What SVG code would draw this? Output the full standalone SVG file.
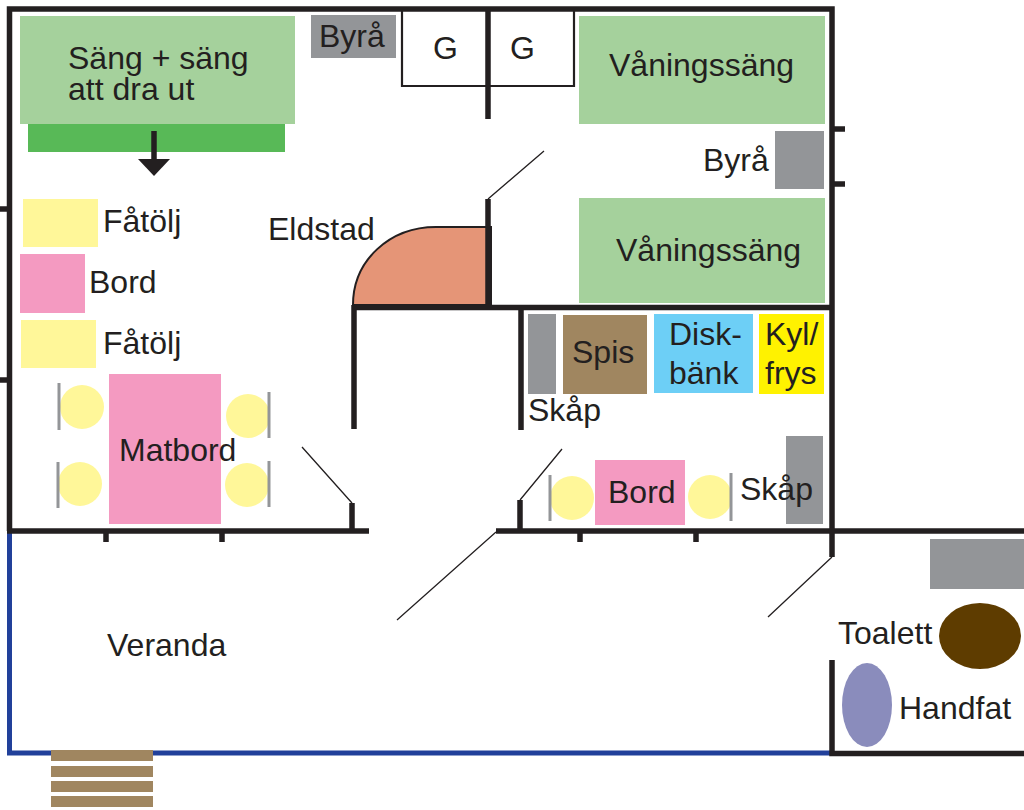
<svg xmlns="http://www.w3.org/2000/svg" width="1024" height="810" viewBox="0 0 1024 810">
<style>
text{font-family:"Liberation Sans",Arial,sans-serif;font-size:32px;fill:#231f20}
.w{stroke:#231f20;stroke-width:5.5;fill:none}
.t{stroke:#231f20;stroke-width:1.3;fill:none}
.s{stroke:#939598;stroke-width:3;fill:none}
.g{fill:#a5d19c}.y{fill:#fff799}.p{fill:#f49ac1}.d{fill:#939598}.b{fill:#a08660}
</style>
<rect width="1024" height="810" fill="#fff"/>
<g id="furniture">
<rect class="g" x="20" y="16" width="275" height="108"/>
<rect x="28" y="124" width="257" height="28" fill="#58b957"/>
<rect class="d" x="311" y="15" width="85" height="43"/>
<rect class="g" x="579" y="16" width="246" height="108"/>
<rect class="g" x="579" y="198" width="246" height="105"/>
<rect class="d" x="775" y="131" width="49" height="58"/>
<path d="M353 305C353 260 390 227 436 227H491V305Z" fill="#e59577" stroke="#231f20" stroke-width="2"/>
<rect class="y" x="23" y="199" width="75" height="48"/>
<rect class="p" x="20" y="254" width="65" height="59"/>
<rect class="y" x="21" y="320" width="75" height="48"/>
<rect class="p" x="109" y="374" width="112" height="150"/>
<circle class="y" cx="82" cy="407" r="22"/><circle class="y" cx="80" cy="484" r="22"/>
<circle class="y" cx="248" cy="416" r="22"/><circle class="y" cx="247" cy="485" r="22"/>
<rect class="d" x="528" y="314" width="28" height="80"/>
<rect class="b" x="563" y="315" width="84" height="79"/>
<rect x="654" y="314" width="99" height="79" fill="#6dcff6"/>
<rect x="759" y="314" width="65" height="80" fill="#fff200"/>
<rect class="p" x="595" y="460" width="90" height="65"/>
<circle class="y" cx="572" cy="498" r="22"/><circle class="y" cx="710" cy="497" r="22"/>
<rect class="d" x="786" y="436" width="37" height="88"/>
<rect class="d" x="930" y="539" width="94" height="50"/>
<ellipse cx="980" cy="636" rx="41" ry="33" fill="#5e3c00"/>
<ellipse cx="867" cy="705" rx="25" ry="42" fill="#8a8cbc"/>
</g>
<g id="connectors">
<path class="s" d="M59 383V430M58 462V508M269 392V438M269 461V507M550 475V521M731 473V521"/>
<path d="M9.5 531V753H832" fill="none" stroke="#21409a" stroke-width="5"/>
<path d="M402 9V86H574V9" fill="none" stroke="#231f20" stroke-width="2.2"/>
<path class="w" d="M9.5 531V9H832V531M488 9V119M488 199V307M354 307.500H832M354 305V429M521 307V430M7 531H369M496 531H1024M352 503V529M520 500V529M832 531V557M832 660V753.500H1024M106 531V542M222 531V542M580 531V542M696 531V542M832 129H845M832 184H845M0 209H10M0 380H10"/>
<path class="t" d="M488 199L544 151M302 447L352 503M520 500L562 449M496 532L397 620M832 557L768 617"/>
<path d="M154 131V162" stroke="#231f20" stroke-width="5.5"/><path d="M138 159H170L154 176Z" fill="#231f20"/>
</g>
<g fill="#a08660"><rect x="51" y="750" width="102" height="11"/><rect x="51" y="766" width="102" height="11"/><rect x="51" y="781" width="102" height="11"/><rect x="51" y="796" width="102" height="11"/></g>
<g id="labels">
<text x="68" y="69">Säng + säng<tspan x="68" y="100">att dra ut</tspan></text>
<text x="319" y="47">Byrå</text><text x="433" y="59">G</text><text x="510" y="59">G</text>
<text x="609" y="76">Våningssäng</text><text x="703" y="171">Byrå</text><text x="616" y="261">Våningssäng</text>
<text x="268" y="240">Eldstad</text><text x="103" y="232">Fåtölj</text><text x="89" y="293">Bord</text><text x="103" y="354">Fåtölj</text>
<text x="119" y="461">Matbord</text><text x="572" y="363">Spis</text><text x="669" y="345">Disk-<tspan x="669" y="384">bänk</tspan></text>
<text x="765" y="345">Kyl/<tspan x="765" y="384">frys</tspan></text><text x="528" y="421">Skåp</text><text x="608" y="503">Bord</text><text x="740" y="500">Skåp</text>
<text x="107" y="656">Veranda</text><text x="838" y="644">Toalett</text><text x="899" y="719">Handfat</text>
</g>
</svg>
